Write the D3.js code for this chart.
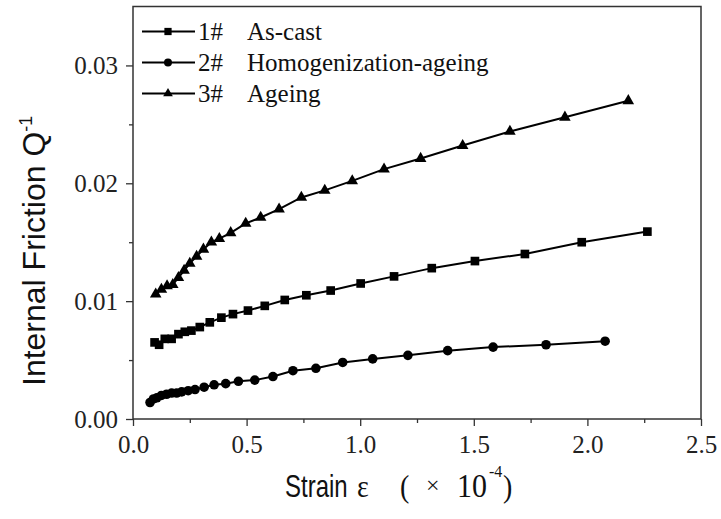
<!DOCTYPE html>
<html>
<head>
<meta charset="utf-8">
<script src="https://cdn.jsdelivr.net/npm/d3@7"></script>
<style>
  body { margin: 0; background: #fff; }
  svg { display: block; }
  .serif { font-family: "Liberation Serif", "Times New Roman", serif; fill: #111; }
  .sans { font-family: "Liberation Sans", Arial, sans-serif; fill: #111; }
</style>
</head>
<body>
<svg width="721" height="519"></svg>
<script>
// series
let asCastX = [0.095, 0.115, 0.14, 0.17, 0.20, 0.228, 0.257, 0.294, 0.338, 0.389, 0.440, 0.506, 0.580, 0.668, 0.763, 0.870, 1.002, 1.149, 1.315, 1.505, 1.725, 1.975, 2.264];
let asCastY = [0.0065, 0.0063, 0.0068, 0.0068, 0.0072, 0.0074, 0.0075, 0.0078, 0.0082, 0.0086, 0.0089, 0.0092, 0.0096, 0.0101, 0.0105, 0.0109, 0.0115, 0.0121, 0.0128, 0.0134, 0.0140, 0.0150, 0.0159];

let homoX = [0.075, 0.09, 0.105, 0.125, 0.148, 0.17, 0.192, 0.214, 0.243, 0.273, 0.313, 0.357, 0.408, 0.464, 0.536, 0.616, 0.704, 0.805, 0.923, 1.055, 1.210, 1.385, 1.585, 1.818, 2.078];
let homoY = [0.0014, 0.0017, 0.0018, 0.0020, 0.0021, 0.0022, 0.0022, 0.0023, 0.0024, 0.0025, 0.0027, 0.0029, 0.0030, 0.0032, 0.0033, 0.0036, 0.0041, 0.0043, 0.0048, 0.0051, 0.0054, 0.0058, 0.0061, 0.0063, 0.0066];

let ageX = [0.10, 0.125, 0.15, 0.175, 0.20, 0.225, 0.25, 0.28, 0.31, 0.345, 0.38, 0.43, 0.496, 0.562, 0.643, 0.741, 0.844, 0.965, 1.105, 1.266, 1.451, 1.659, 1.901, 2.180];
let ageY = [0.0106, 0.0110, 0.0113, 0.0114, 0.0120, 0.0126, 0.0132, 0.0138, 0.0144, 0.0150, 0.0153, 0.0158, 0.0166, 0.0171, 0.0178, 0.0188, 0.0194, 0.0202, 0.0212, 0.0221, 0.0232, 0.0244, 0.0256, 0.0270];

let seriesNames = ["1#", "2#", "3#"];
let seriesLabels = ["As-cast", "Homogenization-ageing", "Ageing"];
let xTicks = [0, 0.5, 1.0, 1.5, 2.0, 2.5];
let yTicks = [0, 0.01, 0.02, 0.03];

let series = [
    { name: seriesNames[0], label: seriesLabels[0], sym: d3.symbolSquare, size: 75, pts: asCastX.map((x, i) => [x, asCastY[i]]) },
    { name: seriesNames[1], label: seriesLabels[1], sym: d3.symbolCircle, size: 72, pts: homoX.map((x, i) => [x, homoY[i]]) },
    { name: seriesNames[2], label: seriesLabels[2], sym: d3.symbolTriangle, size: 58, pts: ageX.map((x, i) => [x, ageY[i]]) }
];

var svg = d3.select("svg");
let plotLeft = 133, plotRight = 701, plotTop = 6.5, plotBottom = 419;

let x = d3.scaleLinear().domain([0, 2.5]).range([plotLeft, plotRight]);
let y = d3.scaleLinear().domain([0, 0.035]).range([plotBottom, plotTop]);

// minor ticks first, then major ticks with labels
svg.append("g")
    .attr("transform", translate(0, plotBottom))
    .call(d3.axisBottom(x).tickValues(d3.range(0.25, 2.5, 0.5)).tickSize(4).tickFormat(""))
    .call(g => g.select(".domain").remove())
    .selectAll("line").attr("stroke", "#333").attr("stroke-width", 1.3);
svg.append("g")
    .attr("class", "xmajor")
    .attr("transform", translate(0, plotBottom))
    .call(d3.axisBottom(x).tickValues(xTicks).tickSize(7).tickPadding(9).tickFormat(d3.format(".1f")))
    .call(g => g.select(".domain").remove())
    .call(g => g.selectAll("line").attr("stroke", "#333").attr("stroke-width", 1.3));

svg.append("g")
    .attr("transform", translate(plotLeft, 0))
    .call(d3.axisLeft(y).tickValues([0.005, 0.015, 0.025]).tickSize(4).tickFormat(""))
    .call(g => g.select(".domain").remove())
    .selectAll("line").attr("stroke", "#333").attr("stroke-width", 1.3);
svg.append("g")
    .attr("class", "ymajor")
    .attr("transform", translate(plotLeft, 0))
    .call(d3.axisLeft(y).tickValues(yTicks).tickSize(7).tickPadding(8).tickFormat(d3.format(".2f")))
    .call(g => g.select(".domain").remove())
    .call(g => g.selectAll("line").attr("stroke", "#333").attr("stroke-width", 1.3));

svg.selectAll(".xmajor, .ymajor")
    .attr("font-family", "'Liberation Serif', 'Times New Roman', serif")
    .attr("font-size", 25);
svg.selectAll(".xmajor .tick text").attr("dy", "0.71em").attr("fill", "#222");
svg.selectAll(".ymajor .tick text").attr("dy", "0.34em").attr("fill", "#222");

// frame
svg.append("rect")
    .attr("x", plotLeft).attr("y", plotTop)
    .attr("width", plotRight - plotLeft).attr("height", plotBottom - plotTop)
    .attr("fill", "none").attr("stroke", "#333").attr("stroke-width", 1.5);

let line = d3.line().x(d => x(d[0])).y(d => y(d[1]));
let plot = svg.append("g");

series.forEach(s => {
    plot.append("path")
        .attr("d", line(s.pts))
        .attr("fill", "none").attr("stroke", "#000").attr("stroke-width", 2);
    plot.selectAll(null)
        .data(s.pts)
        .enter()
        .append("path")
        .attr("transform", d => translate(x(d[0]), y(d[1])))
        .attr("d", d3.symbol().type(s.sym).size(s.size))
        .attr("fill", "#000");
});

// legend
let legend = svg.append("g").attr("transform", translate(142, 31.5));
series.forEach((s, i) => {
    let row = legend.append("g").attr("transform", translate(0, i * 31));
    row.append("line").attr("x1", 0).attr("x2", 53).attr("y1", 0).attr("y2", 0)
        .attr("stroke", "#000").attr("stroke-width", 2);
    row.append("path").attr("transform", translate(26, 0))
        .attr("d", d3.symbol().type(s.sym).size(s.size * 0.7)).attr("fill", "#000");
    row.append("text").attr("class", "serif").attr("x", 56).attr("y", 8)
        .style("font-size", "25px").text(s.name);
    row.append("text").attr("class", "serif").attr("x", 105).attr("y", 8)
        .style("font-size", "25px").text(s.label);
});

// axis titles (the source figure's lettering is a little stretched vertically)
let xt = svg.append("g");
xt.append("text").attr("class", "sans")
    .attr("transform", "translate(285,497) scale(1,1.3)")
    .style("font-size", "24px").text("Strain");
xt.append("text").attr("class", "serif")
    .attr("transform", "translate(357,497) scale(1,1.15)")
    .style("font-size", "28px").text("ε");
xt.append("text").attr("class", "serif")
    .attr("transform", "translate(400,497) scale(1,1.15)")
    .style("font-size", "28px").text("(");
xt.append("text").attr("class", "serif")
    .attr("transform", "translate(426,493)")
    .style("font-size", "24px").text("×");
xt.append("text").attr("class", "serif")
    .attr("transform", "translate(457,497) scale(1,1.15)")
    .style("font-size", "30px").text("10");
xt.append("text").attr("class", "serif")
    .attr("transform", "translate(489,477)")
    .style("font-size", "16px").text("-4");
xt.append("text").attr("class", "serif")
    .attr("transform", "translate(503,497) scale(1,1.15)")
    .style("font-size", "28px").text(")");

let yt = svg.append("text").attr("class", "sans")
    .attr("transform", "translate(45,386) rotate(-90)")
    .style("font-size", "32px");
yt.append("tspan").text("Internal Friction  Q");
yt.append("tspan").attr("dy", -13).style("font-size", "18px").text("-1");

function translate(x, y) {
    return `translate(${x},${y})`;
}
</script>
</body>
</html>
